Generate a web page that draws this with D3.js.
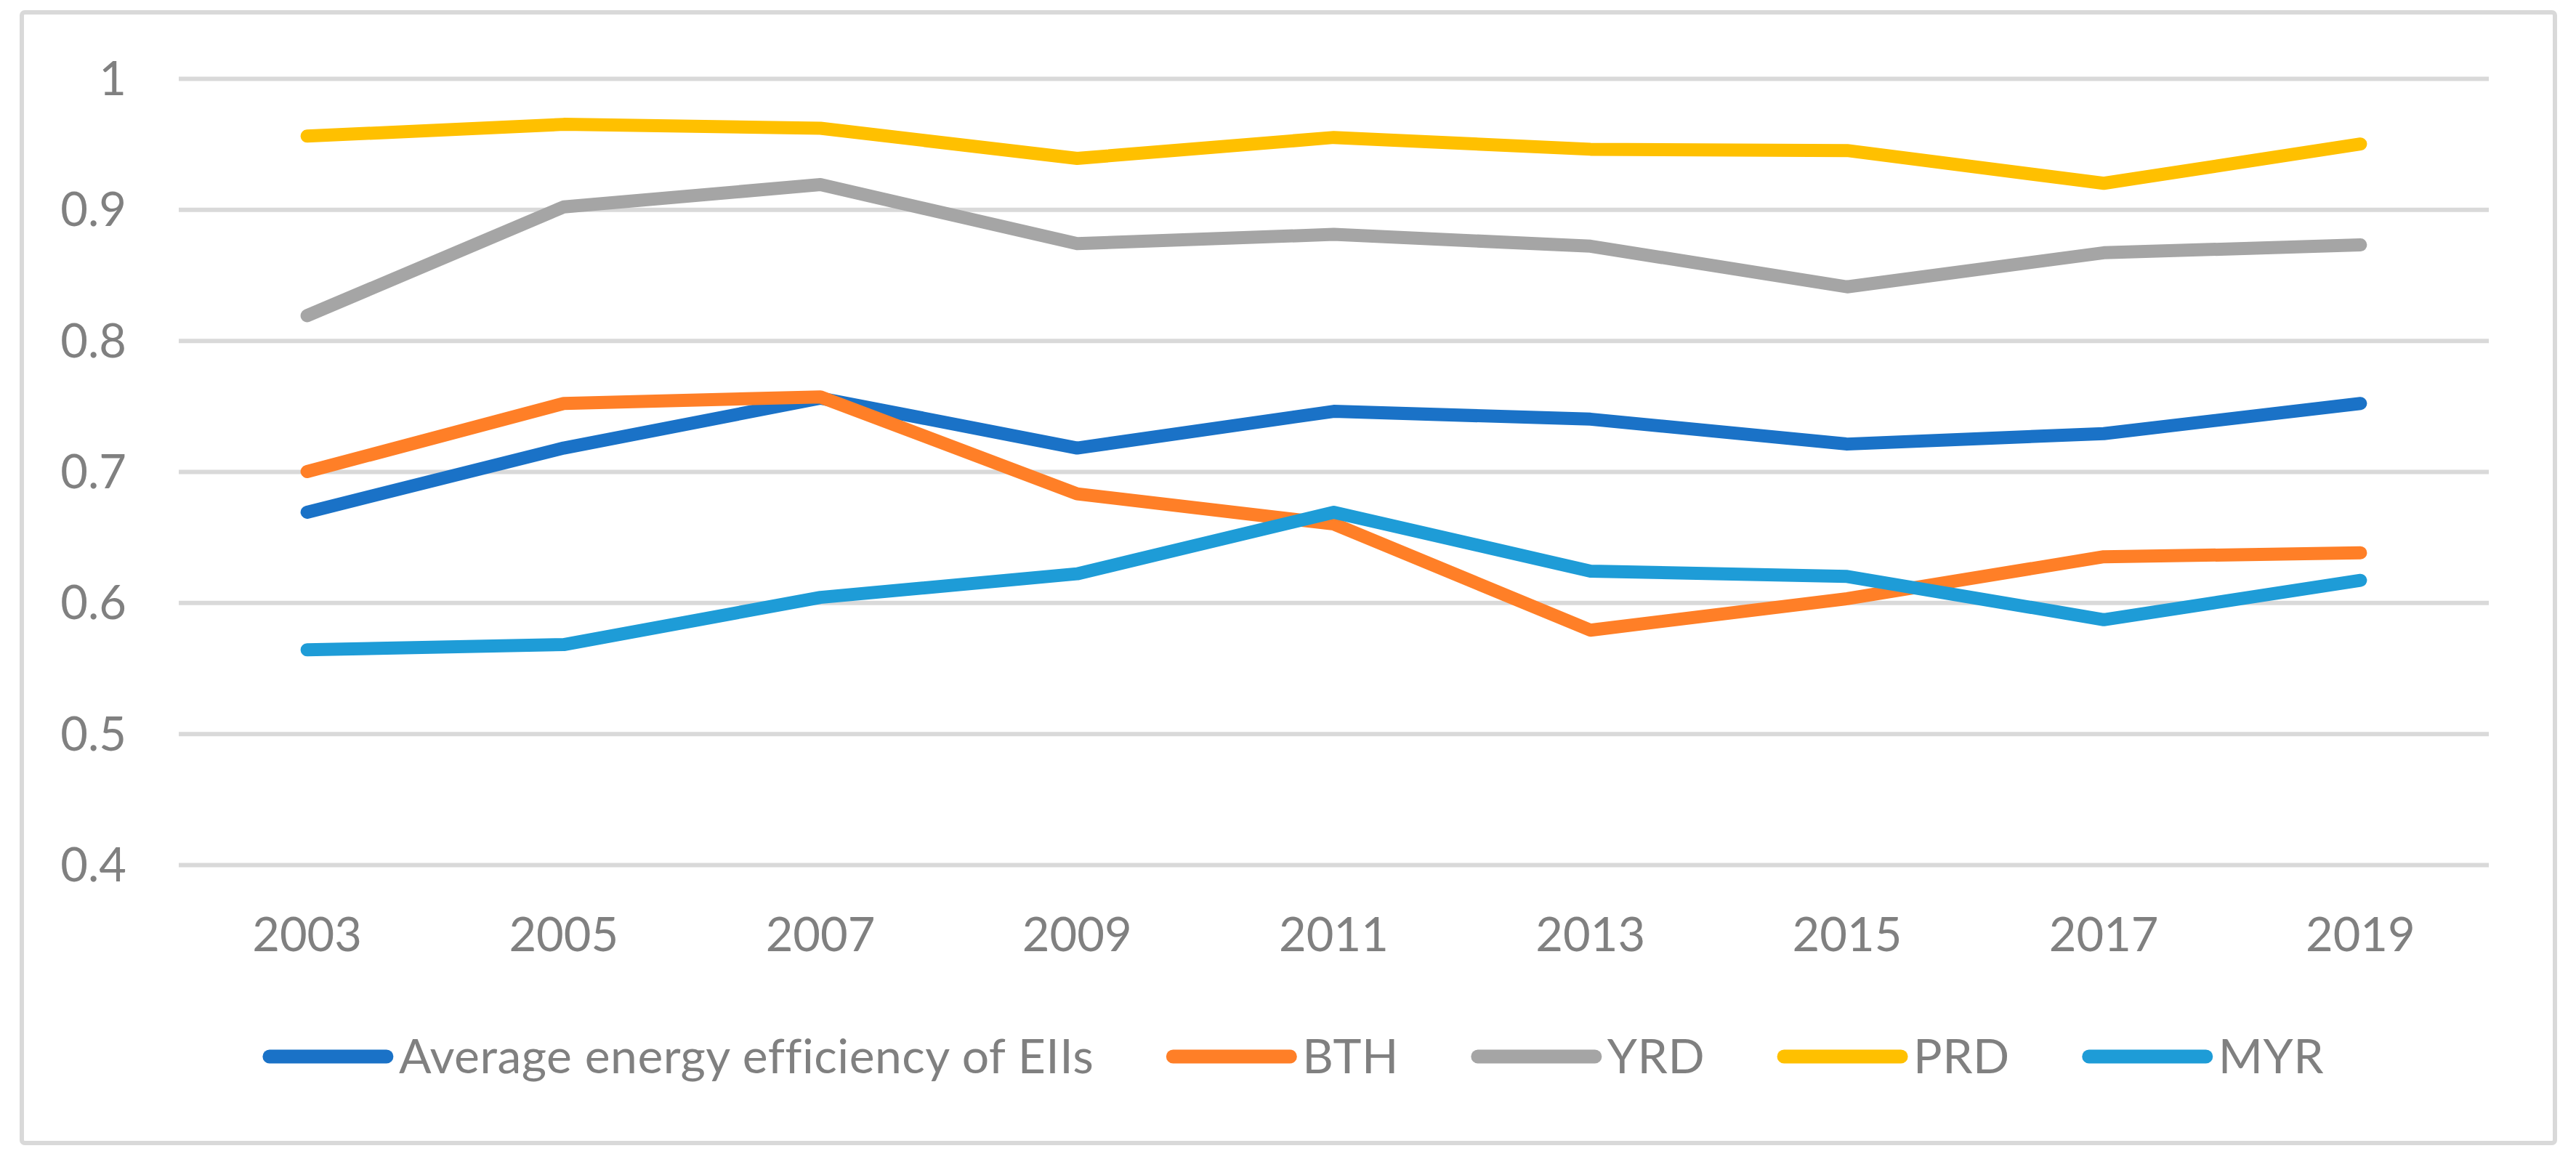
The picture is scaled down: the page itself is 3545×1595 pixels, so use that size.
<!DOCTYPE html>
<html>
<head>
<meta charset="utf-8">
<script src="https://cdn.jsdelivr.net/npm/d3@7"></script>
<style>
  html, body { margin: 0; padding: 0; background: #ffffff; }
  svg { display: block; }
  text { font-family: Lato, "Open Sans", sans-serif; fill: #808080; }
</style>
</head>
<body>
<svg id="chart" width="3545" height="1595"></svg>
<script>
// ---- data ----
const years = ["2003", "2005", "2007", "2009", "2011", "2013", "2015", "2017", "2019"];
const seriesNames = ["Average energy efficiency of EIIs", "BTH", "YRD", "PRD", "MYR"];
const avgEII = [0.669, 0.718, 0.756, 0.718, 0.746, 0.740, 0.721, 0.729, 0.752];
const bth    = [0.700, 0.752, 0.757, 0.683, 0.660, 0.579, 0.603, 0.635, 0.638];
const yrd    = [0.819, 0.902, 0.919, 0.874, 0.881, 0.872, 0.841, 0.867, 0.873];
const prd    = [0.956, 0.965, 0.962, 0.939, 0.955, 0.946, 0.945, 0.920, 0.950];
const myr    = [0.564, 0.568, 0.604, 0.622, 0.669, 0.624, 0.620, 0.587, 0.617];
const yTicks = [0.4, 0.5, 0.6, 0.7, 0.8, 0.9, 1];
const yTickLabels = ["0.4", "0.5", "0.6", "0.7", "0.8", "0.9", "1"];
const colors = ["#1A72C7", "#FF7F27", "#A5A5A5", "#FFC000", "#1E9CD7"];

const seriesValues = [avgEII, bth, yrd, prd, myr];
const series = seriesNames.map((name, i) => ({ name, values: seriesValues[i], color: colors[i] }));

// ---- layout ----
const svg = d3.select("#chart");
const plot = { left: 246, right: 3425, top: 108, bottom: 1190 };

// chart border
svg.append("rect")
  .attr("x", 30).attr("y", 17)
  .attr("width", 3486).attr("height", 1556)
  .attr("rx", 4)
  .attr("fill", "#ffffff")
  .attr("stroke", "#D9D9D9")
  .attr("stroke-width", 6);

const x = d3.scaleBand().domain(years).range([plot.left, plot.right]).paddingInner(0).paddingOuter(0);
const y = d3.scaleLinear().domain([0.4, 1]).range([plot.bottom, plot.top]);
const xc = d => x(d) + x.bandwidth() / 2;

// gridlines
const grid = svg.append("g")
  .attr("transform", `translate(${plot.left},0)`)
  .call(d3.axisLeft(y).tickValues(yTicks).tickSize(-(plot.right - plot.left)).tickFormat(""));
grid.select(".domain").remove();
grid.selectAll(".tick line").attr("stroke", "#D9D9D9").attr("stroke-width", 6);

// y labels
svg.append("g").selectAll("text")
  .data(yTicks)
  .join("text")
  .attr("x", 174)
  .attr("y", d => y(d) + 23)
  .attr("text-anchor", "end")
  .attr("font-size", 65)
  .text((d, i) => yTickLabels[i]);

// x labels
svg.append("g").selectAll("text")
  .data(years)
  .join("text")
  .attr("x", d => xc(d))
  .attr("y", 1309)
  .attr("text-anchor", "middle")
  .attr("font-size", 65)
  .text(d => d);

// lines
const line = d3.line()
  .x((d, i) => xc(years[i]))
  .y(d => y(d));

svg.append("g").selectAll("path")
  .data(series)
  .join("path")
  .attr("d", s => line(s.values))
  .attr("fill", "none")
  .attr("stroke", s => s.color)
  .attr("stroke-width", 18)
  .attr("stroke-linecap", "round")
  .attr("stroke-linejoin", "round");

// legend
const legend = svg.append("g");
const symLen = 179, symGap = 8, itemGap = 100, legendY = 1454;
const items = legend.selectAll("g").data(series).join("g");
items.append("line")
  .attr("x1", 9).attr("x2", symLen - 9)
  .attr("y1", legendY).attr("y2", legendY)
  .attr("stroke", s => s.color)
  .attr("stroke-width", 19)
  .attr("stroke-linecap", "round");
items.append("text")
  .attr("x", symLen + symGap)
  .attr("y", legendY + 23)
  .attr("font-size", 66)
  .attr("letter-spacing", 0.5)
  .text(s => s.name);

let widths = [];
items.each(function () {
  const t = d3.select(this).select("text").node();
  widths.push(symLen + symGap + t.getComputedTextLength());
});
const total = d3.sum(widths) + itemGap * (widths.length - 1);
let cx = 1780 - total / 2;
items.each(function (d, i) {
  d3.select(this).attr("transform", `translate(${cx},0)`);
  cx += widths[i] + itemGap;
});
</script>
</body>
</html>
